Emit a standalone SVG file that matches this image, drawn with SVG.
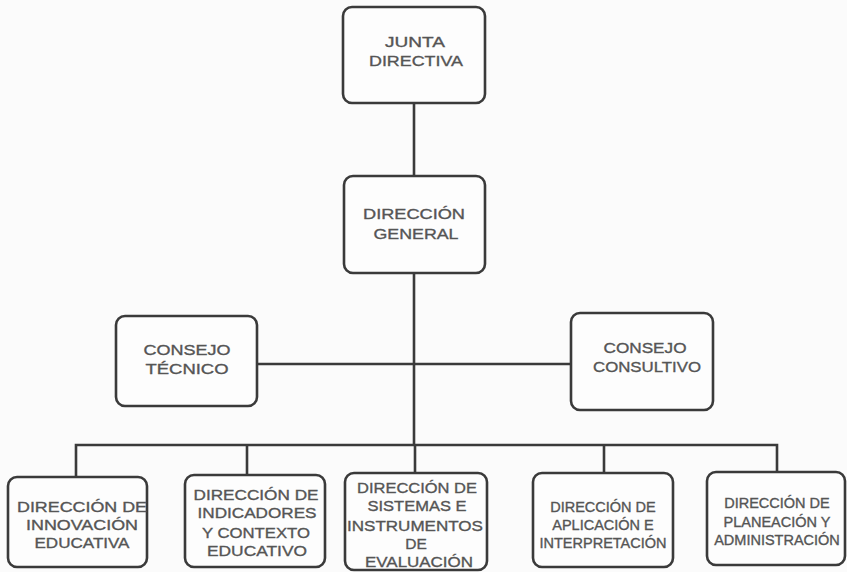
<svg xmlns="http://www.w3.org/2000/svg" width="847" height="572" viewBox="0 0 847 572">
<style>
.box{fill:#fdfdfd;stroke:#3a3a3a;stroke-width:2.6}
.t{font-family:"Liberation Sans",Arial,sans-serif;font-size:15.5px;fill:#555;stroke:#555;stroke-width:0.35;text-anchor:middle}
.s{font-size:14.5px}
.c{stroke:#3a3a3a;stroke-width:2.6;fill:none}
</style>
<rect width="847" height="572" fill="#fbfbfb"/>
<g id="connectors">
<line class="c" x1="414" y1="103" x2="414" y2="176"/>
<line class="c" x1="414" y1="273" x2="414" y2="445"/>
<line class="c" x1="257" y1="364" x2="571" y2="364"/>
<polyline class="c" points="76,477 76,445 777,445 777,472"/>
<line class="c" x1="247" y1="445" x2="247" y2="475"/>
<line class="c" x1="415" y1="445" x2="415" y2="473"/>
<line class="c" x1="604" y1="445" x2="604" y2="473"/>
</g>
<g id="junta">
<rect class="box" x="343" y="7" width="142" height="96" rx="9"/>
<text class="t" x="415" y="47" textLength="60" lengthAdjust="spacingAndGlyphs">JUNTA</text>
<text class="t" x="416" y="66" textLength="94" lengthAdjust="spacingAndGlyphs">DIRECTIVA</text>
</g>
<g id="direccion-general">
<rect class="box" x="344" y="176" width="141" height="97" rx="9"/>
<text class="t" x="414" y="219" textLength="102" lengthAdjust="spacingAndGlyphs">DIRECCIÓN</text>
<text class="t" x="416" y="239" textLength="85" lengthAdjust="spacingAndGlyphs">GENERAL</text>
</g>
<g id="consejo-tecnico">
<rect class="box" x="116" y="316" width="141" height="90" rx="9"/>
<text class="t" x="187" y="355" textLength="87" lengthAdjust="spacingAndGlyphs">CONSEJO</text>
<text class="t" x="187" y="374" textLength="83" lengthAdjust="spacingAndGlyphs">TÉCNICO</text>
</g>
<g id="consejo-consultivo">
<rect class="box" x="571" y="313" width="142" height="97" rx="9"/>
<text class="t" x="645" y="353" textLength="83" lengthAdjust="spacingAndGlyphs">CONSEJO</text>
<text class="t" x="647" y="372" textLength="108" lengthAdjust="spacingAndGlyphs">CONSULTIVO</text>
</g>
<g id="innovacion">
<rect class="box" x="8" y="477" width="139" height="90" rx="9"/>
<text class="t" x="82" y="512" textLength="130" lengthAdjust="spacingAndGlyphs">DIRECCIÓN DE</text>
<text class="t" x="82" y="530" textLength="112" lengthAdjust="spacingAndGlyphs">INNOVACIÓN</text>
<text class="t" x="82" y="548" textLength="95" lengthAdjust="spacingAndGlyphs">EDUCATIVA</text>
</g>
<g id="indicadores">
<rect class="box" x="185" y="475" width="140" height="92" rx="9"/>
<text class="t" x="256" y="500" textLength="125" lengthAdjust="spacingAndGlyphs">DIRECCIÓN DE</text>
<text class="t" x="257" y="518" textLength="119" lengthAdjust="spacingAndGlyphs">INDICADORES</text>
<text class="t" x="256" y="538" textLength="108" lengthAdjust="spacingAndGlyphs">Y CONTEXTO</text>
<text class="t" x="257" y="556" textLength="100" lengthAdjust="spacingAndGlyphs">EDUCATIVO</text>
</g>
<g id="sistemas">
<rect class="box" x="345" y="473" width="142" height="97" rx="9"/>
<text class="t" x="417" y="493" textLength="120" lengthAdjust="spacingAndGlyphs">DIRECCIÓN DE</text>
<text class="t" x="417" y="511" textLength="99" lengthAdjust="spacingAndGlyphs">SISTEMAS E</text>
<text class="t" x="415" y="531" textLength="136" lengthAdjust="spacingAndGlyphs">INSTRUMENTOS</text>
<text class="t" x="416" y="549">DE</text>
<text class="t" x="419" y="567" textLength="108" lengthAdjust="spacingAndGlyphs">EVALUACIÓN</text>
</g>
<g id="aplicacion">
<rect class="box" x="533" y="473" width="140" height="94" rx="9"/>
<text class="t s" x="603" y="512">DIRECCIÓN DE</text>
<text class="t s" x="603" y="530">APLICACIÓN E</text>
<text class="t s" x="603" y="548">INTERPRETACIÓN</text>
</g>
<g id="planeacion">
<rect class="box" x="707" y="472" width="138" height="93" rx="9"/>
<text class="t s" x="777" y="508">DIRECCIÓN DE</text>
<text class="t s" x="777" y="527">PLANEACIÓN Y</text>
<text class="t s" x="777" y="545">ADMINISTRACIÓN</text>
</g>
</svg>
